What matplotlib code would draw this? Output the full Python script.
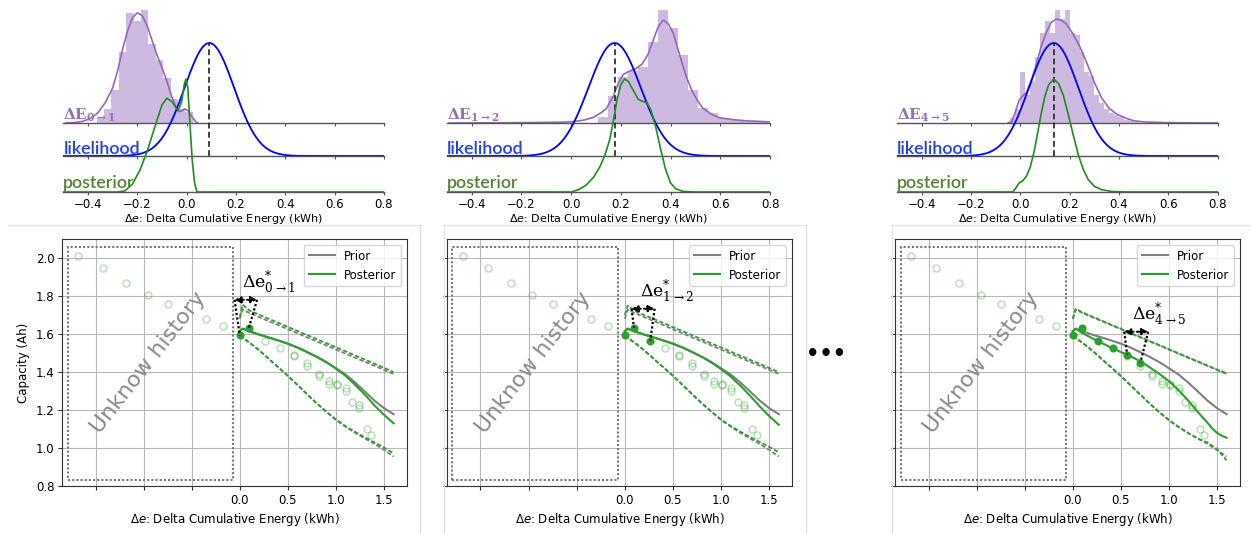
import numpy as np
import matplotlib
matplotlib.use("Agg")
import matplotlib.pyplot as plt
from matplotlib.lines import Line2D
from matplotlib.patches import Rectangle

plt.rcParams["font.family"] = ["DejaVu Sans"]

# ---------------- data: energy-step distributions (top row) ----------------
TOP_TICKS = [-0.4, -0.2, 0.0, 0.2, 0.4, 0.6, 0.8]

# step 0->1
hist0_edges = [-0.365, -0.335, -0.305, -0.275, -0.245, -0.215, -0.185, -0.155,
               -0.125, -0.095, -0.065, -0.035, -0.005]
hist0_heights = [0.04, 0.12, 0.29, 0.63, 0.97, 0.9, 1.0, 0.7, 0.56, 0.4, 0.21, 0.12, 0.1]
hist0_width = 0.03
kde0_x = [-0.49, -0.45, -0.42, -0.39, -0.36, -0.33, -0.30, -0.28, -0.26, -0.24, -0.22,
          -0.20, -0.18, -0.16, -0.14, -0.12, -0.10, -0.08, -0.06, -0.045, -0.03,
          -0.018, -0.008, 0.005, 0.02, 0.035, 0.045]
kde0_y = [0.0, 0.005, 0.015, 0.04, 0.09, 0.18, 0.31, 0.46, 0.65, 0.81, 0.93, 0.975,
          0.95, 0.86, 0.73, 0.6, 0.49, 0.37, 0.23, 0.15, 0.1, 0.11, 0.125, 0.11,
          0.06, 0.015, 0.0]
like0_mu, like0_sd = 0.092, 0.10
post0_x = [-0.5, -0.28, -0.25, -0.22, -0.19, -0.16, -0.13, -0.10, -0.08, -0.06,
           -0.035, -0.02, -0.01, -0.003, 0.005, 0.013, 0.022, 0.032, 0.042, 0.8]
post0_y = [0.0, 0.0, 0.01, 0.07, 0.19, 0.36, 0.57, 0.77, 0.83, 0.8, 0.72, 0.8,
           0.95, 1.0, 0.92, 0.62, 0.3, 0.08, 0.0, 0.0]

# step 1->2
hist1_edges = [0.11, 0.15, 0.19, 0.23, 0.27, 0.31, 0.35, 0.39, 0.43, 0.47, 0.51,
               0.55, 0.59, 0.63, 0.67, 0.71, 0.75]
hist1_heights = [0.05, 0.24, 0.41, 0.46, 0.5, 0.72, 1.0, 0.84, 0.6, 0.29, 0.13,
                 0.09, 0.04, 0.03, 0.02, 0.015, 0.01]
hist1_width = 0.04
kde1_x = [-0.49, -0.3, -0.15, -0.05, 0.0, 0.05, 0.09, 0.12, 0.143, 0.17, 0.19, 0.21,
          0.235, 0.26, 0.285, 0.31, 0.33, 0.35, 0.37, 0.39, 0.41, 0.425, 0.445,
          0.465, 0.485, 0.505, 0.53, 0.57, 0.6, 0.65, 0.7, 0.8]
kde1_y = [0.0, 0.002, 0.004, 0.007, 0.01, 0.025, 0.05, 0.09, 0.13, 0.24, 0.35, 0.43,
          0.46, 0.48, 0.52, 0.61, 0.73, 0.85, 0.91, 0.88, 0.8, 0.69, 0.54, 0.4,
          0.29, 0.21, 0.13, 0.07, 0.045, 0.03, 0.02, 0.01]
like1_mu, like1_sd = 0.175, 0.105
post1_x = [-0.5, 0.0, 0.03, 0.06, 0.09, 0.115, 0.135, 0.155, 0.17, 0.185, 0.2,
           0.215, 0.23, 0.25, 0.27, 0.29, 0.305, 0.32, 0.34, 0.36, 0.38, 0.4,
           0.42, 0.45, 0.5, 0.8]
post1_y = [0.0, 0.0, 0.02, 0.06, 0.13, 0.22, 0.32, 0.46, 0.63, 0.82, 0.95, 1.0,
           0.98, 0.9, 0.82, 0.8, 0.79, 0.73, 0.58, 0.38, 0.2, 0.08, 0.03, 0.005,
           0.0, 0.0]

# step 4->5
hist2_edges = [-0.04, -0.02, 0.0, 0.02, 0.04, 0.06, 0.08, 0.10, 0.12, 0.14, 0.16,
               0.18, 0.20, 0.22, 0.24, 0.26, 0.28, 0.30, 0.32, 0.34, 0.36, 0.38,
               0.40, 0.42, 0.44, 0.46]
hist2_heights = [0.04, 0.12, 0.45, 0.25, 0.37, 0.58, 0.8, 0.9, 0.8, 1.0, 0.92, 1.0,
                 0.8, 0.78, 0.63, 0.45, 0.42, 0.25, 0.18, 0.12, 0.09, 0.07, 0.05,
                 0.03, 0.02, 0.01]
hist2_width = 0.02
kde2_x = [-0.05, -0.035, -0.02, -0.005, 0.01, 0.025, 0.045, 0.065, 0.085, 0.105,
          0.125, 0.145, 0.165, 0.185, 0.21, 0.24, 0.27, 0.3, 0.33, 0.36, 0.39,
          0.41, 0.43, 0.46, 0.5, 0.6, 0.8]
kde2_y = [0.0, 0.01, 0.1, 0.2, 0.24, 0.27, 0.38, 0.52, 0.68, 0.8, 0.89, 0.92, 0.91,
          0.88, 0.8, 0.68, 0.53, 0.36, 0.22, 0.13, 0.08, 0.06, 0.04, 0.02, 0.01,
          0.003, 0.0]
like2_mu, like2_sd = 0.135, 0.10
post2_x = [-0.5, -0.03, -0.02, -0.005, 0.01, 0.025, 0.04, 0.055, 0.07, 0.085, 0.1,
           0.115, 0.135, 0.155, 0.175, 0.195, 0.215, 0.235, 0.255, 0.275, 0.3,
           0.33, 0.37, 0.42, 0.8]
post2_y = [0.0, 0.0, 0.03, 0.08, 0.1, 0.14, 0.22, 0.35, 0.52, 0.7, 0.85, 0.95, 1.0,
           0.96, 0.85, 0.68, 0.5, 0.33, 0.2, 0.11, 0.05, 0.02, 0.005, 0.0, 0.0]

# ---------------- data: capacity trajectories (bottom row) ----------------
traj_x = [0.0, 0.03, 0.1, 0.2, 0.3, 0.4, 0.5, 0.6, 0.7, 0.8, 0.9, 1.0, 1.1, 1.2,
          1.3, 1.4, 1.5, 1.6]
prior_mean = [1.615, 1.628, 1.614, 1.597, 1.582, 1.566, 1.549, 1.529, 1.505, 1.48,
              1.452, 1.42, 1.387, 1.345, 1.298, 1.25, 1.21, 1.178]
prior_upper = [1.68, 1.728, 1.711, 1.689, 1.668, 1.647, 1.625, 1.604, 1.582, 1.561,
               1.54, 1.518, 1.497, 1.475, 1.454, 1.433, 1.411, 1.39]
prior_lower = [1.59, 1.58, 1.555, 1.515, 1.47, 1.425, 1.38, 1.332, 1.283, 1.235,
               1.19, 1.148, 1.112, 1.08, 1.05, 1.022, 0.99, 0.955]

post_mean_01 = [1.615, 1.628, 1.614, 1.597, 1.582, 1.566, 1.549, 1.529, 1.505, 1.48,
                1.452, 1.418, 1.38, 1.333, 1.282, 1.225, 1.175, 1.13]
post_upper_01 = [1.69, 1.755, 1.724, 1.702, 1.68, 1.659, 1.637, 1.616, 1.594, 1.573,
                 1.552, 1.53, 1.509, 1.487, 1.466, 1.444, 1.422, 1.40]
post_lower_01 = [1.59, 1.58, 1.555, 1.515, 1.47, 1.425, 1.38, 1.332, 1.283, 1.236,
                 1.192, 1.15, 1.115, 1.085, 1.057, 1.03, 1.003, 0.972]

post_mean_12 = [1.615, 1.628, 1.614, 1.597, 1.582, 1.566, 1.549, 1.529, 1.505, 1.48,
                1.45, 1.415, 1.376, 1.328, 1.276, 1.22, 1.168, 1.122]
post_upper_12 = [1.70, 1.75, 1.722, 1.70, 1.679, 1.658, 1.636, 1.615, 1.593, 1.572,
                 1.55, 1.529, 1.507, 1.486, 1.464, 1.443, 1.421, 1.399]
post_lower_12 = [1.59, 1.58, 1.555, 1.515, 1.47, 1.425, 1.38, 1.332, 1.283, 1.236,
                 1.192, 1.15, 1.116, 1.086, 1.058, 1.032, 1.006, 0.977]

# the 4->5 posterior mean bends late, so it is sampled more finely at the end
post45_mean_x = [0.0, 0.03, 0.1, 0.2, 0.3, 0.4, 0.5, 0.6, 0.7, 0.8, 0.9, 1.0, 1.1,
                 1.2, 1.3, 1.4, 1.45, 1.5, 1.55, 1.6]
post_mean_45 = [1.615, 1.628, 1.605, 1.578, 1.553, 1.528, 1.505, 1.483, 1.457, 1.425,
                1.39, 1.352, 1.305, 1.25, 1.19, 1.134, 1.103, 1.08, 1.064, 1.054]
post_upper_45 = [1.68, 1.733, 1.714, 1.692, 1.671, 1.649, 1.628, 1.606, 1.585, 1.563,
                 1.542, 1.52, 1.499, 1.477, 1.456, 1.434, 1.413, 1.394]
post_lower_45 = [1.587, 1.578, 1.553, 1.513, 1.468, 1.423, 1.378, 1.33, 1.281, 1.233,
                 1.188, 1.146, 1.11, 1.078, 1.05, 1.03, 0.995, 0.935]

# all measured capacities (history + future), and the ones observed so far
meas_x = [-1.68, -1.42, -1.18, -0.96, -0.75, -0.35, -0.17, 0.0, 0.095, 0.265, 0.42,
          0.565, 0.565, 0.703, 0.703, 0.822, 0.822, 0.93, 0.93, 1.012, 1.012,
          1.102, 1.102, 1.172, 1.242, 1.242, 1.32, 1.37]
meas_y = [2.01, 1.947, 1.868, 1.805, 1.758, 1.679, 1.642, 1.593, 1.633, 1.565, 1.527,
          1.492, 1.486, 1.45, 1.431, 1.39, 1.378, 1.352, 1.336, 1.338, 1.33, 1.318,
          1.299, 1.242, 1.228, 1.21, 1.102, 1.07]
obs_x = [0.0, 0.095, 0.265, 0.42, 0.565, 0.703]
obs_y = [1.593, 1.633, 1.565, 1.527, 1.492, 1.45]

CAP_XTICKS = [-1.5, -1.0, -0.5, 0.0, 0.5, 1.0, 1.5]
CAP_XTICKLABELS = ["", "", "", "0.0", "0.5", "1.0", "1.5"]
CAP_YTICKS = [0.8, 1.0, 1.2, 1.4, 1.6, 1.8, 2.0]

# ---------------- figure ----------------
W, H = 1251, 533
fig = plt.figure(figsize=(W / 100, H / 100), dpi=100)


def fx(px):
    return px / W


def fy(py):
    return 1 - py / H


PURPLE = "#9467bd"
BLUE = "#0000ff"
GREEN_TOP = "#228b22"
GREEN = "#2ca02c"
GRAY = "#7f7f7f"
PEAK = 113  # height of each ridge maximum (px)
ROWS = [("dE", 123), ("like", 156), ("post", 192)]


def ridge_panel(x0, x1, edges, heights, width, kx, ky, mu, sd, px_, py_, sub):
    axes = {}
    for key, base in ROWS:
        ax = fig.add_axes([fx(x0), fy(base), fx(x1 - x0), base / H])
        ax.set_xlim(-0.5, 0.8)
        ax.set_ylim(0, base)
        ax.patch.set_alpha(0)
        for s in ("top", "left", "right"):
            ax.spines[s].set_visible(False)
        ax.spines["bottom"].set_color("#555555")
        ax.spines["bottom"].set_linewidth(1.0)
        ax.set_yticks([])
        ax.set_xticks(TOP_TICKS)
        ax.tick_params(axis="x", length=2.5, width=0.8, color="#555555",
                       labelsize=8.5, pad=2.0)
        if key != "post":
            ax.tick_params(axis="x", labelbottom=False)
        axes[key] = ax

    ax = axes["dE"]
    ax.bar(edges, np.array(heights) * PEAK, width=width, align="edge",
           color=PURPLE, alpha=0.45, linewidth=0)
    ax.plot(kx, np.array(ky) * PEAK, color=PURPLE, lw=1.2)
    ax.text(-0.5, 3, r"$\mathbf{\Delta E_{%s}}$" % sub, color="#9470bd",
            fontsize=11, math_fontfamily="dejavuserif", va="baseline", ha="left")

    ax = axes["like"]
    grid = np.linspace(-0.5, 0.8, 400)
    dens = np.exp(-0.5 * ((grid - mu) / sd) ** 2)
    ax.plot(grid, dens * PEAK, color=BLUE, lw=1.3)
    ax.vlines(mu, 0, PEAK, colors="#222222", linestyles=(0, (3.5, 2)), lw=1.2)
    ax.text(-0.5, 2, "likelihood", color="#1f40e8", fontsize=12.8,
            family="Lato", fontweight="semibold", va="baseline", ha="left")

    ax = axes["post"]
    ax.plot(px_, np.array(py_) * PEAK, color=GREEN_TOP, lw=1.2)
    ax.text(-0.5, 4, "posterior", color="#548235", fontsize=12.8,
            family="Lato", fontweight="semibold", va="baseline", ha="left")
    ax.set_xlabel(r"$\Delta e$: Delta Cumulative Energy (kWh)", fontsize=8,
                  labelpad=0.5)


ridge_panel(63.3, 384.0, hist0_edges, hist0_heights, hist0_width, kde0_x, kde0_y,
            like0_mu, like0_sd, post0_x, post0_y, r"0\rightarrow 1")
ridge_panel(446.8, 770.0, hist1_edges, hist1_heights, hist1_width, kde1_x, kde1_y,
            like1_mu, like1_sd, post1_x, post1_y, r"1\rightarrow 2")
ridge_panel(897.0, 1217.7, hist2_edges, hist2_heights, hist2_width, kde2_x, kde2_y,
            like2_mu, like2_sd, post2_x, post2_y, r"4\rightarrow 5")


def capacity_panel(x0, x1, mx, pm, pu, pl, n_obs, arr, lab_xy, sub, ylabels):
    ax = fig.add_axes([fx(x0), fy(486), fx(x1 - x0), (486 - 239) / H])
    ax.set_xlim(-1.85, 1.74)
    ax.set_ylim(0.8, 2.1)
    ax.grid(True, color="#b8b8b8", lw=0.8)
    ax.set_axisbelow(True)
    ax.set_xticks(CAP_XTICKS)
    ax.set_xticklabels(CAP_XTICKLABELS)
    ax.set_yticks(CAP_YTICKS)
    ax.set_yticklabels(["%.1f" % v for v in CAP_YTICKS])
    ax.tick_params(labelsize=8.5, length=3, pad=2.5, color="#333333")
    for s in ax.spines.values():
        s.set_color("#333333")
    if ylabels:
        ax.set_ylabel("Capacity (Ah)", fontsize=8.5, labelpad=4)
    else:
        ax.tick_params(axis="y", labelleft=False)
    ax.set_xlabel(r"$\Delta e$: Delta Cumulative Energy (kWh)", fontsize=8.5,
                  labelpad=3)

    ax.add_patch(Rectangle((-1.79, 0.83), 1.72, 1.23, fill=False,
                           edgecolor="#777777", lw=1.5, linestyle=(0, (1, 1))))
    ax.text(-0.95, 1.45, "Unknow history", rotation=52, rotation_mode="anchor",
            ha="center", va="center", fontsize=16, color="#8a8a8a")

    ax.plot(meas_x, meas_y, "o", mfc="none", mec=GREEN, alpha=0.35, ms=5, mew=1)

    dash = (0, (2.4, 1.2))
    l_prior, = ax.plot(traj_x, prior_mean, color=GRAY, lw=1.5, label="Prior")
    ax.plot(traj_x, prior_upper, color=GRAY, lw=1.3, ls=dash)
    ax.plot(traj_x, prior_lower, color=GRAY, lw=1.3, ls=dash)
    l_post, = ax.plot(mx, pm, color=GREEN, lw=1.5, label="Posterior")
    ax.plot(traj_x, pu, color=GREEN, lw=1.3, ls=dash)
    ax.plot(traj_x, pl, color=GREEN, lw=1.3, ls=dash)

    ax.plot(obs_x[:n_obs], obs_y[:n_obs], "o", color=GREEN, ms=4.6)

    ax0, ax1, ay = arr
    ax.plot([ax0, obs_x[n_obs - 2]], [ay, obs_y[n_obs - 2]], color="k",
            lw=1.6, ls=(0, (1, 1)))
    ax.plot([ax1, obs_x[n_obs - 1]], [ay, obs_y[n_obs - 1]], color="k",
            lw=1.6, ls=(0, (1, 1)))
    ax.annotate("", xy=(ax1, ay), xytext=(ax0, ay),
                arrowprops=dict(arrowstyle="<|-|>", linestyle="--", lw=1.4,
                                color="k", mutation_scale=9, shrinkA=0, shrinkB=0))
    ax.text(lab_xy[0], lab_xy[1], r"$\Delta\mathrm{e}^{*}_{%s}$" % sub,
            fontsize=12.5, math_fontfamily="dejavuserif", ha="left", va="bottom")

    ax.legend(handles=[l_prior, l_post], loc="upper right", fontsize=8.5,
              handlelength=2.2, borderaxespad=0.5)
    return ax


capacity_panel(62, 407, traj_x, post_mean_01, post_upper_01, post_lower_01, 2,
               (-0.055, 0.18, 1.78), (0.02, 1.80), r"0\rightarrow 1", True)
capacity_panel(446.7, 792.3, traj_x, post_mean_12, post_upper_12, post_lower_12, 3,
               (0.07, 0.31, 1.733), (0.16, 1.752), r"1\rightarrow 2", False)
capacity_panel(895, 1240, post45_mean_x, post_mean_45, post_upper_45, post_lower_45, 6,
               (0.535, 0.785, 1.612), (0.615, 1.63), r"4\rightarrow 5", False)

# panel frames
frame_color = "#e2e2e2"
for xa, xb in [(8, 420), (444, 806), (892, 1251)]:
    fig.add_artist(Line2D([fx(xa), fx(xb)], [fy(225), fy(225)], color=frame_color, lw=1))
for xv in (420, 444, 806, 892):
    fig.add_artist(Line2D([fx(xv), fx(xv)], [fy(225), fy(533)], color=frame_color, lw=1))

fig.text(fx(826), fy(354), "\u2022\u2022\u2022", ha="center", va="center",
         fontsize=15, fontweight="bold")

fig.savefig("out.png", dpi=100)
